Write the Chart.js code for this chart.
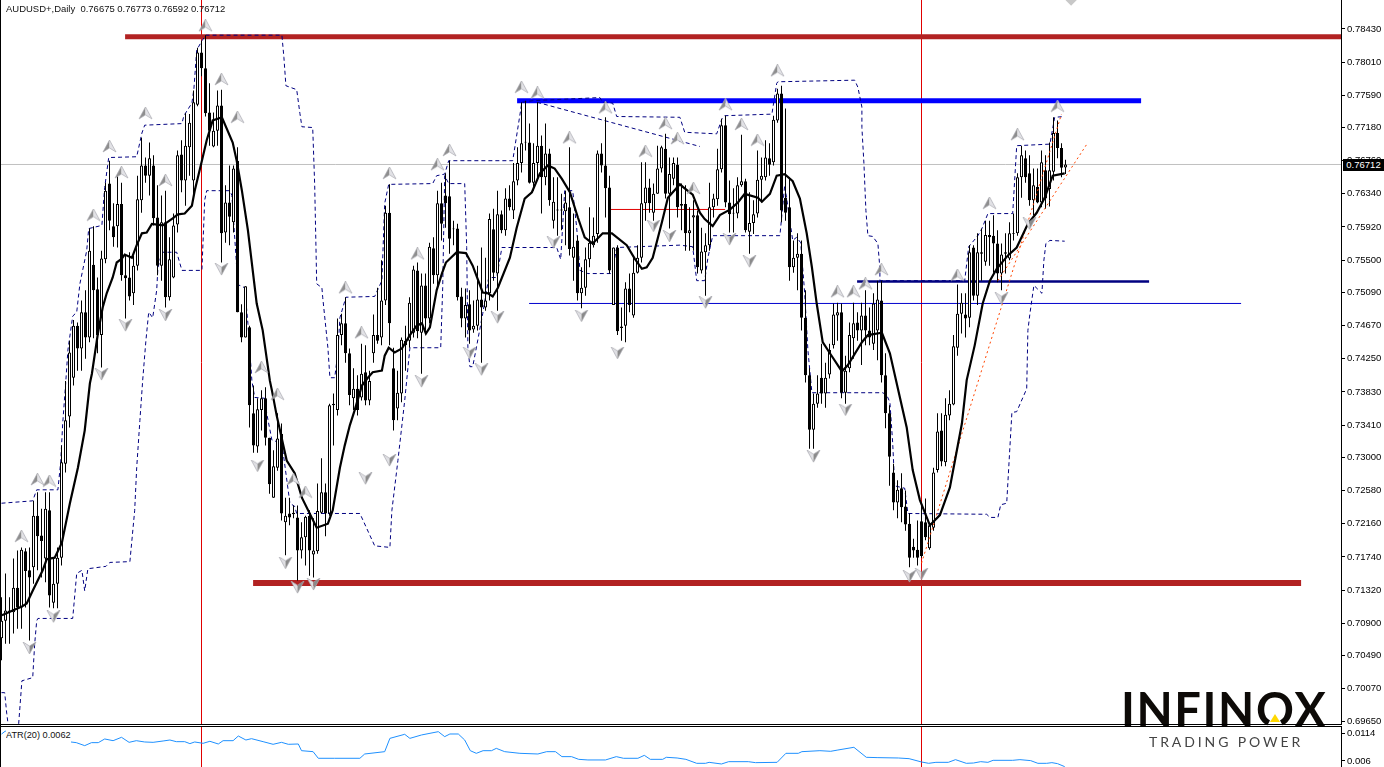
<!DOCTYPE html>
<html>
<head>
<meta charset="utf-8">
<title>AUDUSD+,Daily</title>
<script src="https://cdn.jsdelivr.net/npm/chart.js@4"></script>
<style>
  html, body { margin: 0; padding: 0; background: #fff; width: 1384px; height: 767px; overflow: hidden; }
  body { position: relative; font-family: "Liberation Sans", sans-serif; color: #111; }
  canvas { position: absolute; left: 0; }
  #priceChart { top: 0; }
  #atrChart { top: 727px; }
  .txt { position: absolute; font-size: 9.2px; line-height: 11px; white-space: pre; }
  #header { left: 6px; top: 3px; font-size: 9.47px; }
  #atrLabel { left: 6px; top: 730px; background: #fff; padding-right: 0; height: 14px; }
  #bidLabel { left: 1343px; top: 159px; width: 41px; height: 12px; line-height: 12px; background: #000; color: #fff; text-align: center; font-size: 9.5px; }
  .rule { position: absolute; background: #000; }
  #logo { position: absolute; left: 1121px; top: 681px; font-family: Lato, sans-serif; font-weight: 700; font-size: 47px; line-height: 56px; letter-spacing: 1.6px; color: #0d0a07; }
  #notch { position: absolute; left: 1267px; top: 711px; width: 0; height: 0; border-left: 8px solid transparent; border-right: 8px solid transparent; border-bottom: 15px solid #fff; }
  #tri { position: absolute; left: 1270px; top: 714px; width: 0; height: 0; border-left: 5px solid transparent; border-right: 5px solid transparent; border-bottom: 8px solid #ffd800; }
  #slogan { position: absolute; left: 1149px; top: 733px; font-family: Lato, sans-serif; font-size: 14px; line-height: 18px; letter-spacing: 2.9px; color: #444; white-space: pre; }
</style>
</head>
<body>
<canvas id="priceChart" width="1384" height="725"></canvas>
<canvas id="atrChart" width="1384" height="40"></canvas>
<div id="logo">INFINOX</div>
<div id="notch"></div>
<div id="tri"></div>
<div id="slogan">TRADING POWER</div>
<div class="rule" style="left:0;top:724px;width:1342px;height:1px"></div>
<div class="rule" style="left:0;top:726px;width:1342px;height:1px"></div>
<div class="rule" style="left:0;top:0;width:1px;height:767px"></div>
<div class="txt" id="header">AUDUSD+,Daily  0.76675 0.76773 0.76592 0.76712</div>
<div class="txt" id="atrLabel">ATR(20) 0.0062</div>
<div class="txt" id="bidLabel">0.76712</div>
<script>
// daily quotes, one entry per bar
const opens = [.7071,.7093,.7106,.7104,.7135,.7110,.7181,.7157,.7161,.7226,.7201,.7172,.7233,.7116,.7140,.7173,.7292,.7352,.7401,.7467,.7438,.7484,.7452,.7544,.7513,.7455,.7551,.7647,.7593,.7593,.7621,.7531,.7528,.7508,.7543,.7626,.7670,.7657,.7670,.7604,.7543,.7598,.7503,.7528,.7595,.7684,.7651,.7693,.7651,.7747,.7813,.7793,.7737,.7694,.7714,.7746,.7585,.7623,.7598,.7676,.7484,.7452,.7465,.7356,.7314,.7360,.7375,.7325,.7249,.7287,.7330,.7218,.7229,.7230,.7224,.7182,.7199,.7226,.7177,.7181,.7230,.7256,.7229,.7368,.7360,.7455,.7470,.7432,.7375,.7387,.7376,.7408,.7372,.7432,.7455,.7452,.7499,.7610,.7413,.7362,.7381,.7448,.7448,.7458,.7537,.7458,.7518,.7476,.7565,.7531,.7622,.7632,.7631,.7590,.7590,.7504,.7476,.7494,.7462,.7467,.7500,.7490,.7508,.7589,.7533,.7608,.7588,.7628,.7613,.7651,.7673,.7700,.7699,.7648,.7673,.7695,.7655,.7685,.7600,.7614,.7614,.7612,.7617,.7553,.7575,.7508,.7515,.7551,.7569,.7583,.7685,.7670,.7642,.7493,.7566,.7464,.7467,.7514,.7480,.7534,.7553,.7622,.7642,.7610,.7634,.7666,.7691,.7634,.7653,.7671,.7621,.7621,.7584,.7604,.7607,.7537,.7560,.7569,.7617,.7627,.7665,.7721,.7623,.7609,.7609,.7645,.7650,.7586,.7597,.7609,.7652,.7655,.7679,.7674,.7727,.7761,.7629,.7617,.7541,.7553,.7558,.7477,.7404,.7335,.7368,.7401,.7381,.7405,.7442,.7480,.7484,.7382,.7413,.7451,.7471,.7461,.7480,.7461,.7444,.7461,.7499,.7404,.7356,.7281,.7243,.7261,.7238,.7216,.7187,.7183,.7219,.7218,.7185,.7211,.7284,.7334,.7294,.7353,.7367,.7439,.7482,.7481,.7477,.7566,.7505,.7560,.7548,.7582,.7581,.7571,.7533,.7560,.7552,.7584,.7584,.7655,.7679,.7660,.7626,.7643,.7623,.7664,.7640,.7662,.7711,.7692,.76675];
const highs = [.7123,.7153,.7123,.7172,.7182,.7186,.7185,.7186,.7245,.7256,.7235,.7256,.7256,.7172,.7186,.7315,.7397,.7448,.7474,.7471,.7499,.7512,.7590,.7593,.7528,.7562,.7648,.7676,.7622,.7657,.7648,.7556,.7560,.7556,.7657,.7705,.7680,.7699,.7683,.7645,.7632,.7638,.7579,.7609,.7689,.7702,.7736,.7735,.7765,.7819,.7828,.7835,.7774,.7737,.7765,.7766,.7645,.7670,.7670,.7693,.7494,.7517,.7467,.7391,.7375,.7385,.7389,.7325,.7309,.7356,.7343,.7249,.7249,.7239,.7239,.7218,.7226,.7233,.7223,.7267,.7299,.7267,.7368,.7381,.7476,.7482,.7503,.7438,.7413,.7404,.7444,.7442,.7410,.7481,.7515,.7550,.7619,.7646,.7439,.7410,.7452,.7467,.7503,.7543,.7547,.7533,.7533,.7572,.7579,.7638,.7648,.7660,.7676,.7600,.7596,.7515,.7514,.7512,.7499,.7543,.7566,.7553,.7609,.7615,.7638,.7613,.7641,.7645,.7673,.7693,.7750,.7752,.7723,.7698,.7750,.7708,.7723,.7691,.7655,.7655,.7634,.7638,.7693,.7609,.7581,.7541,.7566,.7617,.7604,.7689,.7698,.7731,.7657,.7566,.7569,.7490,.7522,.7533,.7553,.7569,.7674,.7674,.7653,.7647,.7695,.7695,.7710,.7680,.7680,.7680,.7647,.7645,.7617,.7626,.7613,.7591,.7584,.7648,.7634,.7691,.7729,.7733,.7651,.7641,.7655,.7709,.7653,.7636,.7626,.7689,.7680,.7702,.7698,.7733,.7767,.7771,.7742,.7655,.7575,.7584,.7575,.7512,.7413,.7381,.7404,.7444,.7420,.7444,.7495,.7496,.7495,.7429,.7471,.7496,.7484,.7496,.7512,.7490,.7508,.7524,.7524,.7432,.7366,.7292,.7271,.7280,.7258,.7229,.7197,.7220,.7239,.7248,.7216,.7287,.7356,.7356,.7375,.7385,.7455,.7519,.7508,.7508,.7569,.7569,.7584,.7590,.7600,.7600,.7607,.7588,.7571,.7584,.7598,.7609,.7660,.7695,.7689,.7683,.7666,.7666,.7689,.7683,.7699,.7731,.7727,.7698,.76773];
const lows = [.7043,.7064,.7064,.7077,.7083,.7083,.7110,.7068,.7140,.7157,.7148,.7142,.7110,.7109,.7109,.7163,.7281,.7338,.7391,.7410,.7410,.7425,.7446,.7451,.7432,.7414,.7546,.7588,.7567,.7566,.7524,.7476,.7499,.7493,.7537,.7610,.7648,.7632,.7594,.7531,.7524,.7490,.7499,.7527,.7585,.7636,.7619,.7657,.7632,.7745,.7783,.7732,.7695,.7693,.7695,.7547,.7572,.7569,.7585,.7484,.7446,.7452,.7338,.7306,.7306,.7334,.7315,.7254,.7249,.7283,.7220,.7176,.7214,.7223,.7144,.7172,.7163,.7150,.7148,.7178,.7229,.7200,.7226,.7315,.7353,.7442,.7420,.7366,.7360,.7353,.7372,.7366,.7366,.7420,.7444,.7442,.7493,.7442,.7334,.7347,.7370,.7410,.7439,.7452,.7451,.7406,.7461,.7470,.7520,.7515,.7575,.7591,.7558,.7569,.7499,.7465,.7452,.7444,.7458,.7461,.7420,.7486,.7499,.7524,.7486,.7584,.7581,.7613,.7602,.7645,.7661,.7689,.7647,.7638,.7655,.7609,.7645,.7619,.7590,.7581,.7588,.7569,.7556,.7524,.7499,.7489,.7505,.7541,.7566,.7572,.7661,.7604,.7533,.7493,.7455,.7448,.7446,.7484,.7477,.7533,.7547,.7600,.7610,.7600,.7634,.7661,.7628,.7590,.7645,.7604,.7588,.7562,.7562,.7562,.7533,.7533,.7505,.7562,.7604,.7619,.7661,.7617,.7585,.7585,.7603,.7643,.7585,.7558,.7583,.7604,.7623,.7651,.7657,.7670,.7724,.7598,.7600,.7524,.7534,.7512,.7461,.7395,.7311,.7311,.7363,.7368,.7363,.7400,.7438,.7448,.7375,.7368,.7408,.7425,.7448,.7417,.7442,.7442,.7436,.7423,.7395,.7337,.7264,.7233,.7223,.7218,.7207,.7161,.7173,.7163,.7173,.7195,.7183,.7207,.7281,.7289,.7289,.7347,.7366,.7429,.7457,.7452,.7465,.7499,.7493,.7524,.7543,.7543,.7534,.7522,.7512,.7533,.7550,.7575,.7581,.7629,.7648,.7619,.7607,.7622,.7617,.7615,.7618,.7651,.7679,.7655,.76592];
const closes = [.7093,.7106,.7104,.7135,.7110,.7183,.7156,.7148,.7226,.7200,.7194,.7235,.7125,.7140,.7173,.7294,.7347,.7433,.7467,.7438,.7484,.7452,.7562,.7512,.7455,.7552,.7638,.7600,.7579,.7621,.7531,.7527,.7504,.7543,.7627,.7670,.7657,.7679,.7603,.7543,.7598,.7503,.7551,.7594,.7683,.7651,.7695,.7724,.7750,.7813,.7793,.7736,.7714,.7714,.7746,.7584,.7623,.7605,.7666,.7484,.7452,.7517,.7366,.7315,.7361,.7375,.7325,.7266,.7289,.7324,.7229,.7226,.7224,.7228,.7182,.7199,.7225,.7182,.7182,.7232,.7256,.7229,.7366,.7366,.7455,.7470,.7432,.7379,.7387,.7360,.7406,.7372,.7397,.7455,.7448,.7499,.7610,.7470,.7347,.7382,.7449,.7442,.7496,.7538,.7460,.7518,.7476,.7567,.7531,.7622,.7596,.7622,.7577,.7589,.7503,.7476,.7493,.7461,.7467,.7500,.7490,.7499,.7602,.7534,.7608,.7588,.7628,.7617,.7650,.7673,.7698,.7699,.7648,.7673,.7695,.7655,.7685,.7626,.7624,.7613,.7613,.7623,.7564,.7567,.7508,.7515,.7551,.7572,.7581,.7685,.7670,.7641,.7537,.7566,.7460,.7466,.7514,.7493,.7534,.7553,.7622,.7642,.7622,.7634,.7666,.7693,.7634,.7659,.7673,.7617,.7619,.7584,.7588,.7607,.7541,.7561,.7569,.7617,.7628,.7665,.7721,.7623,.7608,.7610,.7645,.7650,.7588,.7597,.7608,.7652,.7657,.7680,.7671,.7728,.7761,.7613,.7610,.7541,.7553,.7558,.7477,.7404,.7335,.7368,.7381,.7381,.7401,.7436,.7481,.7484,.7382,.7410,.7455,.7470,.7461,.7480,.7461,.7452,.7495,.7500,.7404,.7356,.7301,.7243,.7259,.7237,.7215,.7173,.7182,.7173,.7175,.7199,.7214,.7281,.7333,.7295,.7354,.7368,.7441,.7482,.7496,.7476,.7560,.7505,.7560,.7558,.7582,.7579,.7571,.7533,.7557,.7558,.7584,.7583,.7655,.7683,.7655,.7626,.7645,.7623,.7674,.7628,.7664,.7711,.7692,.7667,.76712];

// smoothed moving average: bar number and price
const maBars = [0.1,2.8,5.1,6.3,7.8,10.3,11.3,13.3,15.1,17.1,19.1,20.8,22.1,22.6,24.1,25.3,26.3,27.8,28.8,30.1,30.8,32.6,33.8,35.1,36.3,37.6,40.3,42.8,44.1,45.8,47.6,48.3,50.1,51.3,52.8,55.1,57.8,58.8,60.1,61.6,63.8,65.3,67.1,67.6,68.8,71.3,73.3,75.1,78.8,81.6,82.8,84.6,85.8,87.1,88.3,90.1,91.6,92.8,95.1,95.8,96.8,98.3,100.1,102.1,103.8,105.1,106.1,107.1,108.8,110.1,111.1,113.8,116.1,117.8,120.3,121.6,122.8,124.1,127.1,128.8,130.8,132.6,134.6,136.6,138.3,140.1,142.1,144.1,145.8,147.8,150.3,152.6,156.3,158.3,160.1,161.3,162.8,165.1,166.6,169.6,170.8,172.8,174.6,175.8,177.8,179.6,182.1,184.1,185.8,189.1,190.1,192.1,193.8,195.8,197.8,199.6,201.3,202.6,203.8,205.3,207.1,210.1,211.6,215.1,216.6,220.1,222.1,226.3,227.8,229.6,232.1,234.6,237.1,240.1,241.3,243.3,245.3,247.1,248.8,251.6,253.8,256.6,258.8,260.8,262.8,265.8];
const maPrices = [.7100,.7106,.7111,.7115,.7131,.7157,.7171,.7173,.7192,.7242,.7287,.7334,.7394,.7406,.7457,.7490,.7508,.7528,.7547,.7552,.7557,.7553,.7569,.7584,.7585,.7596,.7594,.7603,.7608,.7609,.7619,.7638,.7676,.7702,.7727,.7731,.7699,.7676,.7638,.7588,.7495,.7461,.7397,.7385,.7353,.7296,.7280,.7249,.7211,.7216,.7233,.7287,.7315,.7341,.7360,.7391,.7401,.7408,.7410,.7429,.7439,.7433,.7438,.7455,.7467,.7470,.7457,.7465,.7512,.7533,.7547,.7560,.7559,.7543,.7509,.7508,.7504,.7515,.7553,.7591,.7628,.7636,.7660,.7670,.7666,.7653,.7636,.7604,.7579,.7571,.7584,.7584,.7569,.7552,.7539,.7541,.7553,.7598,.7629,.7646,.7641,.7633,.7610,.7602,.7593,.7607,.7614,.7623,.7634,.7629,.7624,.7634,.7657,.7659,.7650,.7628,.7584,.7541,.7495,.7446,.7432,.7409,.7417,.7446,.7455,.7458,.7432,.7338,.7284,.7246,.7214,.7227,.7262,.7343,.7398,.7442,.7495,.7524,.7539,.7556,.7566,.7596,.7610,.7629,.7657,.7660];

// upper and lower dashed channel
const upperBars = [0,7.8,8.8,14.1,14.8,15.3,16.1,16.6,17.8,18.8,19.6,21.3,21.8,25.1,25.6,25.8,26.8,33.8,35.1,35.8,45.1,45.6,47.6,48.1,48.8,50.1,51.1,70.1,70.6,71.1,73.8,74.6,75.1,77.8,78.3,78.8,80.1,80.3,81.6,82.1,83.3,84.1,84.6,86.1,93.3,95.1,95.8,96.8,107.8,108.8,110.8,111.8,127.8,130.1,132.8,149.6,150.3,152.8,153.8,169.6,170.8,178.8,180.1,180.8,192.6,193.8,194.1,213.3,214.1,215.1,215.1,215.6,216.1,216.6,217.8,219.1,219.6,219.6,240.8,241.8,244.1,245.1,246.6,252.8,253.8,262.1,263.3,265.8];
const upperPrices = [.7242,.7245,.7259,.7259,.7294,.7343,.7398,.7436,.7479,.7484,.7520,.7562,.7590,.7594,.7629,.7642,.7680,.7681,.7711,.7721,.7723,.7733,.7749,.7767,.7816,.7828,.7835,.7835,.7807,.7771,.7766,.7736,.7719,.7718,.7645,.7520,.7515,.7503,.7439,.7401,.7401,.7433,.7477,.7503,.7504,.7524,.7622,.7646,.7647,.7657,.7659,.7676,.7676,.7750,.7752,.7756,.7750,.7749,.7732,.7731,.7712,.7710,.7729,.7733,.7735,.7774,.7776,.7778,.7769,.7744,.7718,.7673,.7613,.7581,.7580,.7571,.7539,.7524,.7524,.7567,.7581,.7590,.7609,.7609,.7695,.7697,.7731,.7732];
const lowerBars = [0,0.8,1.3,1.6,2.0,4.2,4.3,5.1,7.8,8.3,8.8,9.1,17.8,18.8,20.1,20.8,21.6,26.1,27.1,32.1,33.3,33.8,34.6,35.3,36.1,36.8,37.8,38.8,39.1,40.1,43.8,45.1,50.1,50.8,51.3,57.1,57.6,59.1,59.6,60.8,61.6,62.6,63.3,65.8,66.3,67.6,70.1,72.1,73.3,73.8,89.6,93.3,97.1,97.6,99.1,100.8,102.1,109.8,110.3,110.8,111.8,115.8,116.3,116.6,117.1,117.8,118.6,120.3,121.8,123.8,125.1,138.8,139.8,140.8,142.8,143.8,144.6,146.6,152.6,153.8,169.6,172.8,173.8,175.8,176.6,177.8,194.6,195.8,197.1,197.8,198.8,199.8,200.8,201.6,202.6,220.3,221.3,222.1,222.8,223.3,225.8,226.6,246.3,247.1,249.1,249.8,251.3,252.1,252.6,253.8,256.3,256.6,257.1,258.1,260.1,260.6,261.1,262.1,265.8];
const lowerPrices = [.7002,.7002,.6976,.6964,.6950,.6950,.6963,.7017,.7021,.7064,.7093,.7096,.7096,.7153,.7157,.7131,.7159,.7162,.7167,.7168,.7233,.7287,.7347,.7398,.7448,.7484,.7477,.7512,.7540,.7560,.7560,.7537,.7537,.7626,.7638,.7638,.7632,.7518,.7518,.7515,.7470,.7397,.7376,.7375,.7356,.7322,.7318,.7242,.7238,.7229,.7229,.7188,.7186,.7233,.7296,.7372,.7439,.7439,.7515,.7657,.7647,.7647,.7566,.7439,.7415,.7415,.7436,.7482,.7528,.7528,.7566,.7566,.7551,.7638,.7638,.7591,.7537,.7533,.7533,.7566,.7569,.7567,.7524,.7524,.7553,.7581,.7581,.7645,.7600,.7575,.7579,.7572,.7508,.7436,.7382,.7382,.7379,.7370,.7318,.7264,.7261,.7229,.7228,.7224,.7224,.7240,.7242,.7313,.7357,.7358,.7387,.7461,.7482,.7518,.7508,.7550,.7571,.7575,.7574];

// fractal arrows: bar number and price
const upArrowBars = [5,9,12,23,27,30,36,41,51,55,59,65,69,73,76,86,90,97,104,109,112,130,134,142,151,161,166,169,173,181,185,189,194,209,213,216,220,239,247,254,264];
const upArrowPrices = [.7200,.7272,.7270,.7607,.7694,.7661,.7736,.7651,.7847,.7779,.7731,.7414,.7380,.7272,.7256,.7515,.7458,.7660,.7558,.7671,.7689,.7769,.7762,.7705,.7743,.7688,.7723,.7704,.7641,.7747,.7722,.7702,.7790,.7510,.7510,.7520,.7538,.7531,.7622,.7709,.7745];
const downArrowBars = [7,13,25,31,41,55,64,71,74,78,91,97,105,117,120,124,138,145,154,163,167,176,182,187,203,211,227,230,250,257];
const downArrowPrices = [.7058,.7098,.7405,.7467,.7480,.7538,.7289,.7166,.7135,.7139,.7273,.7296,.7396,.7432,.7411,.7477,.7572,.7479,.7432,.7593,.7580,.7496,.7576,.7548,.7301,.7360,.7149,.7152,.7501,.7596];

// ATR(20) sub window
const atrBars = [0,1,3,16.7,18.7,20.8,22.5,24.2,25.8,27.9,30,31.9,33.7,35.8,37.9,40.4,42.1,43.7,45.8,47.1,48.3,50.4,52.1,54.2,55.4,57.9,59.2,61.1,62.5,65.4,67.9,70,71.7,74.2,75,77.9,79.2,83.3,89.6,90.8,95.8,97.1,100.8,102.1,105,109.2,110.8,112.1,114.2,115.8,117.2,118.7,120.4,122.5,123.7,125.8,129.6,134.1,136.3,138.5,140.1,142.5,144.3,146.6,151,153.7,155.5,159.1,160.7,162.2,165.3,166.2,168.9,171.1,173.8,176,176.9,180,181.8,186.7,188.5,193.9,196.1,199.2,200.1,204.6,207.3,209.1,213.1,216.2,218.9,224.2,226.9,230,231.8,233.6,236.7,238.5,241.2,243,244.8,246.6,247.9,252.8,254.6,257.3,259.1,261.3,262.6,264,265.8];
const atrValues = [.0112,.0118,.0100,.00973,.00954,.00896,.00954,.00954,.01025,.00992,.01057,.0096,.00992,.00967,.0096,.00986,.01005,.00973,.00973,.00935,.00967,.00941,.0098,.00928,.00992,.00992,.01082,.01005,.01031,.00973,.00922,.0096,.00922,.00928,.00799,.0078,.00652,.00652,.00652,.00735,.0078,.01037,.01115,.01037,.01102,.01166,.0107,.01121,.01121,.01005,.00799,.00748,.00799,.00799,.00844,.0078,.00748,.00735,.0078,.0078,.00684,.00684,.00632,.0062,.0062,.00684,.00652,.00652,.00709,.00632,.00632,.00671,.00658,.00632,.00555,.00555,.00574,.00542,.00587,.00587,.00568,.00574,.00748,.00748,.0078,.00799,.00787,.00812,.00864,.00671,.00665,.00658,.00645,.00581,.00555,.00574,.00574,.00626,.00555,.00561,.00587,.00574,.00613,.00613,.00626,.00607,.00555,.00555,.00568,.00549,.00491];

// tick labels on the price and ATR axes
const priceTicks = [.7843,.7801,.7759,.7718,.7676,.7634,.7592,.755,.7509,.7467,.7425,.7383,.7341,.73,.7258,.7216,.7174,.7132,.709,.7049,.7007,.6965];
const atrTicks = [.0114,.006];

// drawn objects on the chart: start bar, end bar, prices
const lastBar = 334.875;
const crossBars = [50, 230];
const bidPrice = 0.76712;
const topLevelBars = [30.9, lastBar], topLevelPrices = [.7833, .7833];
const bottomLevelBars = [62.9, 324.9], bottomLevelPrices = [.7141, .7141];
const blueLevelBars = [128.9, 284.9], blueLevelPrices = [.7752, .7752];
const navyLevelBars = [213.9, 286.9], navyLevelPrices = [.7523, .7523];
const thinLevelBars = [131.9, 309.9], thinLevelPrices = [.74951, .74951];
const redLevelBars = [152.3, 180.9], redLevelPrices = [.76142, .76142];
const dashTrendBars = [133.9, 174.6], dashTrendPrices = [.7750, .7694];
const steepTrendBars = [230, 265], steepTrendPrices = [.7166, .7735];
const flatTrendBars = [249.1, 271.6], flatTrendPrices = [.7524, .7699];
const cornerMarkBars = [267.4], cornerMarkPrices = [.7880];

const yMax = 0.78796, yMin = 0.6961;
const atrMax = 0.01256, atrMin = 0.00484;
const firstBar = -0.375;

function lineSet(xs, ys, color, width, dash, order) {
  return {
    type: 'line',
    data: xs.map((x, i) => ({ x, y: ys[i] })),
    borderColor: color,
    borderWidth: width,
    borderDash: dash || [],
    pointRadius: 0,
    tension: 0,
    fill: false,
    order
  };
}

// the grey 3d arrows of the fractal indicator
function arrowImage(up) {
  const c = document.createElement('canvas');
  c.width = 15; c.height = 13;
  const g = c.getContext('2d');
  const ys = up ? [0, 12, 8] : [12, 0, 4];
  g.fillStyle = up ? '#8e8e8e' : '#e0e0e4';
  g.beginPath(); g.moveTo(7.5, ys[0]); g.lineTo(1, ys[1]); g.lineTo(7.5, ys[2]); g.closePath(); g.fill();
  g.fillStyle = up ? '#e2e2e6' : '#8a8a8a';
  g.beginPath(); g.moveTo(7.5, ys[0]); g.lineTo(14, ys[1]); g.lineTo(7.5, ys[2]); g.closePath(); g.fill();
  g.strokeStyle = '#a9a9b0';
  g.lineWidth = 0.7;
  g.beginPath(); g.moveTo(7.5, ys[0]); g.lineTo(14, ys[1]); g.lineTo(7.5, ys[2]); g.lineTo(1, ys[1]); g.closePath(); g.stroke();
  return c;
}

function arrowSet(xs, ys, up) {
  return {
    type: 'scatter',
    data: xs.map((x, i) => ({ x, y: ys[i] })),
    pointStyle: arrowImage(up),
    pointRadius: 7,
    order: 1
  };
}

function fixedTicks(values, fmt) {
  return {
    afterBuildTicks: s => { s.ticks = values.map(value => ({ value })); },
    // keep the plot flush with the canvas, labels may not pad it
    afterFit: s => { s.width = 43; s.paddingTop = 0; s.paddingBottom = 0; },
    position: 'right',
    border: { display: true, color: '#000', width: 1 },
    grid: { drawOnChartArea: false, drawTicks: true, tickLength: 4, color: '#000' },
    ticks: {
      autoSkip: false, maxRotation: 0, padding: 2, color: '#000',
      font: { family: 'Liberation Sans', size: 9.5 },
      callback: fmt
    }
  };
}

const commonOptions = {
  responsive: false,
  animation: false,
  devicePixelRatio: 1,
  layout: { padding: 0, autoPadding: false },
  plugins: { legend: { display: false }, tooltip: { enabled: false }, title: { display: false } }
};

const wickData = lows.map((l, i) => ({ x: i, y: [l, highs[i]] }));
const bodyData = opens.map((o, i) => ({ x: i, y: [o, closes[i]] }));
const bodyFill = opens.map((o, i) => closes[i] >= o ? '#fff' : '#000');

new Chart(document.getElementById('priceChart').getContext('2d'), {
  type: 'bar',
  data: {
    datasets: [
      lineSet([firstBar, lastBar], [bidPrice, bidPrice], '#c0c0c0', 1, null, 20),
      lineSet([crossBars[0], crossBars[0]], [yMin, yMax], '#e00000', 1, null, 19),
      lineSet([crossBars[1], crossBars[1]], [yMin, yMax], '#e00000', 1, null, 19),
      lineSet(topLevelBars, topLevelPrices, '#b22222', 5, null, 18),
      lineSet(bottomLevelBars, bottomLevelPrices, '#b22222', 6, null, 18),
      lineSet(blueLevelBars, blueLevelPrices, '#0000ff', 5, null, 18),
      lineSet(navyLevelBars, navyLevelPrices, '#000080', 2.5, null, 18),
      lineSet(thinLevelBars, thinLevelPrices, '#0000cd', 1, null, 18),
      lineSet(redLevelBars, redLevelPrices, '#e00000', 1, null, 18),
      lineSet(upperBars, upperPrices, '#000080', 1, [4, 3], 10),
      lineSet(lowerBars, lowerPrices, '#000080', 1, [4, 3], 10),
      lineSet(dashTrendBars, dashTrendPrices, '#000080', 1, [4, 3], 10),
      {
        data: wickData, backgroundColor: '#000', barThickness: 1, grouped: false,
        borderWidth: 0, inflateAmount: 0, order: 6
      },
      {
        data: bodyData, backgroundColor: bodyFill, borderColor: '#000', barThickness: 3, grouped: false,
        borderWidth: 1, borderSkipped: false, inflateAmount: 0, order: 5
      },
      lineSet(steepTrendBars, steepTrendPrices, '#ff4500', 1, [2, 3], 4),
      lineSet(flatTrendBars, flatTrendPrices, '#ff4500', 1, [2, 3], 4),
      lineSet(maBars, maPrices, '#000', 2.2, null, 3),
      arrowSet(upArrowBars, upArrowPrices, true),
      arrowSet(downArrowBars, downArrowPrices, false),
      {
        type: 'scatter',
        data: cornerMarkBars.map((x, i) => ({ x, y: cornerMarkPrices[i] })),
        pointStyle: 'rectRot', pointRadius: 6, backgroundColor: '#c8c8c8', borderWidth: 0, order: 1
      }
    ]
  },
  options: {
    ...commonOptions,
    scales: {
      x: { type: 'linear', min: firstBar, max: lastBar, display: false, offset: false },
      y: { type: 'linear', min: yMin, max: yMax, ...fixedTicks(priceTicks, v => v.toFixed(5)) }
    }
  }
});

new Chart(document.getElementById('atrChart').getContext('2d'), {
  type: 'line',
  data: {
    datasets: [
      lineSet([crossBars[0], crossBars[0]], [atrMin, atrMax], '#e00000', 1, null, 5),
      lineSet([crossBars[1], crossBars[1]], [atrMin, atrMax], '#e00000', 1, null, 5),
      lineSet(atrBars, atrValues, '#1e90ff', 1, null, 1)
    ]
  },
  options: {
    ...commonOptions,
    scales: {
      x: { type: 'linear', min: firstBar, max: lastBar, display: false },
      y: { type: 'linear', min: atrMin, max: atrMax, ...fixedTicks(atrTicks, v => String(v)) }
    }
  }
});
</script>
</body>
</html>
